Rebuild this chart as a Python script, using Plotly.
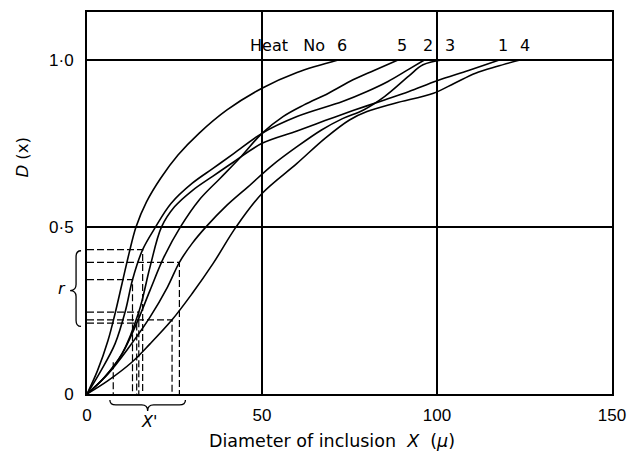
import plotly.graph_objects as go

# ---------------- data ----------------
heat_labels = ["6", "5", "2", "3", "1", "4"]

c6_x = [0, 3, 6, 8, 10, 12, 14, 17, 21, 26, 32, 40, 50, 60, 72]
c6_y = [0, 0.07, 0.16, 0.24, 0.33, 0.42, 0.50, 0.575, 0.645, 0.715, 0.78, 0.85, 0.915, 0.962, 1.0]

c5_x = [0, 5, 10, 14.2, 18, 22, 26.7, 32, 38, 44, 50, 56, 62, 69, 76, 82, 89]
c5_y = [0, 0.05, 0.12, 0.212, 0.31, 0.41, 0.5, 0.58, 0.645, 0.71, 0.78, 0.83, 0.865, 0.9, 0.94, 0.968, 1.0]

c2_x = [0, 4, 8, 11, 13, 15.9, 19.6, 24, 30, 36, 42, 50, 60, 73, 80, 86, 92, 96.5]
c2_y = [0, 0.07, 0.15, 0.25, 0.342, 0.432, 0.5, 0.57, 0.63, 0.675, 0.72, 0.78, 0.83, 0.875, 0.905, 0.935, 0.972, 1.0]

c3_x = [0, 6, 12, 18, 23, 26.4, 30, 34, 40, 46, 53, 60, 67, 73, 79, 85, 92, 96, 102]
c3_y = [0, 0.06, 0.14, 0.23, 0.32, 0.394, 0.45, 0.5, 0.565, 0.62, 0.685, 0.74, 0.79, 0.824, 0.85, 0.89, 0.952, 0.985, 1.0]

c1_x = [0, 5, 10, 14.8, 18, 21.3, 25, 30, 36, 42, 50, 60, 68, 76, 85, 92, 100, 109, 118]
c1_y = [0, 0.05, 0.12, 0.245, 0.38, 0.5, 0.56, 0.608, 0.652, 0.695, 0.75, 0.787, 0.818, 0.848, 0.88, 0.905, 0.937, 0.968, 1.0]

c4_x = [0, 6, 12.8, 18, 24.3, 30, 36, 42.6, 50, 60, 68, 75, 80, 88, 99, 105, 111, 117, 124]
c4_y = [0, 0.04, 0.095, 0.15, 0.222, 0.3, 0.39, 0.5, 0.6, 0.69, 0.765, 0.82, 0.845, 0.87, 0.90, 0.93, 0.96, 0.98, 1.0]

# dashed construction points (X', r) and whether a horizontal leg is drawn
constr_x = [15.9, 26.4, 13.0, 14.8, 24.3, 14.2, 7.5]
constr_r = [0.432, 0.394, 0.342, 0.245, 0.222, 0.212, 0.095]
constr_h = [True, True, True, True, True, True, False]

x_ticks = [0, 50, 100, 150]
x_ticktext = ["0", "50", "100", "150"]
y_ticks = [0, 0.5, 1.0]
y_ticktext = ["0", "0·5", "1·0"]

curves = [(c6_x, c6_y), (c5_x, c5_y), (c2_x, c2_y), (c3_x, c3_y), (c1_x, c1_y), (c4_x, c4_y)]

# ---------------- figure ----------------
W, H = 636, 459
ML, MR, MT, MB = 87, 21, 10, 65
PW, PH = W - ML - MR, H - MT - MB

fig = go.Figure()

for (cx, cy), lab in zip(curves, heat_labels):
    fig.add_trace(go.Scatter(x=cx, y=cy, mode="lines",
                             line=dict(color="black", width=1.6, shape="spline", smoothing=1.0),
                             hoverinfo="skip", showlegend=False))

for xp, r, h in zip(constr_x, constr_r, constr_h):
    xs = [0, xp, xp] if h else [xp, xp]
    ys = [r, r, 0] if h else [r, 0]
    fig.add_trace(go.Scatter(x=xs, y=ys, mode="lines",
                             line=dict(color="black", width=1.2, dash="7px,3px"),
                             hoverinfo="skip", showlegend=False))

FONT = "Liberation Sans, Arial, sans-serif"
TFONT = "DejaVu Sans, sans-serif"

annotations = []
# heat numbers at curve ends
label_shift = [3, 3, 3, 6, 3, 4]
for (cx, cy), lab, sh in zip(curves, heat_labels, label_shift):
    annotations.append(dict(x=cx[-1], y=cy[-1], xref="x", yref="y", text=lab, showarrow=False,
                            xanchor="center", yanchor="bottom", yshift=3, xshift=sh,
                            font=dict(family=TFONT, size=16, color="black")))
annotations.append(dict(x=c6_x[-1], y=1.0, xref="x", yref="y", text="Heat&nbsp;&nbsp;&nbsp;No",
                        showarrow=False, xanchor="right", yanchor="bottom", yshift=3, xshift=-12,
                        font=dict(family=TFONT, size=16, color="black")))


def px2paper(px, py):
    return (px - ML) / PW, (H - MB - py) / PH


# axis titles and symbols
ax, ay = px2paper(333, 441)
annotations.append(dict(x=ax, y=ay, xref="paper", yref="paper", showarrow=False,
                        text="Diameter of inclusion&nbsp;&nbsp;<i>X</i>&nbsp;&nbsp;(<i>μ</i>)",
                        xanchor="center", yanchor="middle",
                        font=dict(family=TFONT, size=17.5, color="black")))
ax, ay = px2paper(22, 156)
annotations.append(dict(x=ax, y=ay, xref="paper", yref="paper", showarrow=False,
                        text="<i>D</i> (x)", textangle=-90, xanchor="center", yanchor="middle",
                        font=dict(family=TFONT, size=16.5, color="black")))
ax, ay = px2paper(62, 288)
annotations.append(dict(x=ax, y=ay, xref="paper", yref="paper", showarrow=False,
                        text="<i>r</i>", xanchor="center", yanchor="middle",
                        font=dict(family=TFONT, size=16, color="black")))
ax, ay = px2paper(149, 422)
annotations.append(dict(x=ax, y=ay, xref="paper", yref="paper", showarrow=False,
                        text="<i>X'</i>", xanchor="center", yanchor="middle",
                        font=dict(family=TFONT, size=16, color="black")))

# braces
def hbrace(px0, px1, pym, py_tip, py_line, py_pt, d=6):
    x0, yt = px2paper(px0, py_tip)
    x1, _ = px2paper(px1, py_tip)
    xm, yl = px2paper(pym, py_line)
    _, yp = px2paper(pym, py_pt)
    dx = d / PW
    return (f"M {x0},{yt} Q {x0},{yl} {x0+dx},{yl} L {xm-dx},{yl} Q {xm},{yl} {xm},{yp} "
            f"Q {xm},{yl} {xm+dx},{yl} L {x1-dx},{yl} Q {x1},{yl} {x1},{yt}")


def vbrace(py0, py1, pym, px_tip, px_line, px_pt, d=6):
    xt, y0 = px2paper(px_tip, py0)
    _, y1 = px2paper(px_tip, py1)
    xl, ym = px2paper(px_line, pym)
    xp, _ = px2paper(px_pt, pym)
    dy = d / PH
    return (f"M {xt},{y0} Q {xl},{y0} {xl},{y0-dy} L {xl},{ym+dy} Q {xl},{ym} {xp},{ym} "
            f"Q {xl},{ym} {xl},{ym-dy} L {xl},{y1+dy} Q {xl},{y1} {xt},{y1}")


shapes = [
    dict(type="path", xref="paper", yref="paper", path=hbrace(110, 186, 148, 400, 405, 411),
         line=dict(color="black", width=1.3)),
    dict(type="path", xref="paper", yref="paper", path=vbrace(250, 326, 290, 81, 76, 70),
         line=dict(color="black", width=1.3)),
]

fig.update_layout(
    width=W, height=H,
    margin=dict(l=ML, r=MR, t=MT, b=MB),
    paper_bgcolor="white", plot_bgcolor="white",
    showlegend=False,
    annotations=annotations,
    shapes=shapes,
    xaxis=dict(range=[0, 150], tickvals=x_ticks, ticktext=x_ticktext,
               showgrid=True, gridcolor="black", gridwidth=1.6,
               showline=True, mirror=True, linecolor="black", linewidth=2,
               ticks="", ticklabelstandoff=5, zeroline=False,
               tickfont=dict(family=FONT, size=17, color="black")),
    yaxis=dict(range=[0, 1.143], tickvals=y_ticks, ticktext=y_ticktext,
               showgrid=True, gridcolor="black", gridwidth=1.6,
               showline=True, mirror=True, linecolor="black", linewidth=2,
               ticks="", ticklabelstandoff=8, zeroline=False,
               tickfont=dict(family=FONT, size=17, color="black")),
)

fig.write_html("out.html")
